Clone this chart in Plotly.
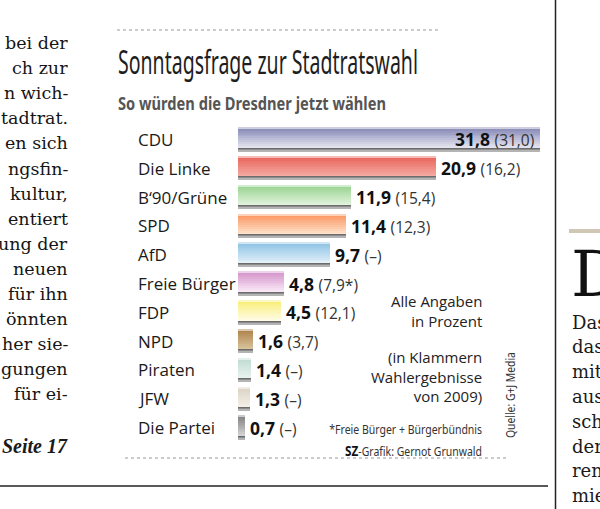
import json
import plotly.graph_objects as go

# ---------------- data ----------------
parties = ["CDU", "Die Linke", "B‘90/Grüne", "SPD", "AfD", "Freie Bürger",
           "FDP", "NPD", "Piraten", "JFW", "Die Partei"]
values = [31.8, 20.9, 11.9, 11.4, 9.7, 4.8, 4.5, 1.6, 1.4, 1.3, 0.7]
prev_2009 = [31.0, 16.2, 15.4, 12.3, None, 7.9, 12.1, 3.7, None, None, None]
footnote_mark = ["", "", "", "", "", "*", "", "", "", "", ""]

title = "Sonntagsfrage zur Stadtratswahl"
subtitle = "So würden die Dresdner jetzt wählen"
footnote = "*Freie Bürger + Bürgerbündnis"
credit_bold, credit_rest = "SZ", "-Grafik: Gernot Grunwald"
source = "Quelle: G+J Media"

left_article = ["bei der", "ch zur", "n wich-", "tadtrat.", "en sich", "ngsfin-",
                "kultur,", "entiert", "ung der", "neuen", "für ihn", "önnten",
                "her sie-", "gungen", "für ei-"]
right_article = ["Das", "das", "mit", "aus", "sch", "der", "ren", "mie"]

# ---------------- styles ----------------
top_colors = ["#8f91bb", "#e9685f", "#9cd594", "#fb9a66", "#95c6e6", "#d79ccf",
              "#f9ef7e", "#b08550", "#c2ddd3", "#ddd4c6", "#8a8a8a"]
bot_colors = ["#e2e2ee", "#f5aaa2", "#e2f4de", "#fee2cc", "#e2f0fa", "#f9e6f6",
              "#fffbe4", "#d9c49c", "#e9f3ef", "#f3efe8", "#d2d2d2"]

W, H = 600, 509
ML, MR, MT, MB = 238, 60, 125, 67
PW, PH = W - ML - MR, H - MT - MB


def px2x(px):
    return (px - ML) / PW


def py2y(py):
    return (H - MB - py) / PH


def hex2rgb(h):
    h = h.lstrip("#")
    return tuple(int(h[i:i + 2], 16) for i in (0, 2, 4))


def mix(a, b, t):
    ra, rb = hex2rgb(a), hex2rgb(b)
    return "rgb(%d,%d,%d)" % tuple(round(ra[i] + (rb[i] - ra[i]) * t) for i in range(3))


fig = go.Figure()

pitch = 28.8            # px per category row
u = 1.0 / pitch         # one pixel in category units
bar_top = -0.408
grad_h = 19.5 * u
N = 10
band = grad_h / N
for k in range(N):
    t = k / (N - 1)
    fig.add_trace(go.Bar(
        y=parties, x=values, orientation="h",
        offset=bar_top + u + k * band, width=band * 1.6,
        marker=dict(color=[mix(a, b, t) for a, b in zip(top_colors, bot_colors)],
                    line=dict(width=0)),
        hoverinfo="skip", showlegend=False))
# top highlight
fig.add_trace(go.Bar(
    y=parties, x=values, orientation="h", offset=bar_top, width=1.2 * u,
    marker=dict(color=[mix(a, "#ffffff", 0.55) for a in top_colors], line=dict(width=0)),
    hoverinfo="skip", showlegend=False))
# shadow
shadow_start = bar_top + u + grad_h
for j, c in enumerate(["#6c6c6c", "#8c8c8c", "#b4b4b4"]):
    fig.add_trace(go.Bar(
        y=parties, x=values, orientation="h", offset=shadow_start + j * u, width=u * 1.05,
        marker=dict(color=c, line=dict(width=0)),
        hoverinfo="skip", showlegend=False))

LABEL_FONT = "Open Sans, Noto Sans, sans-serif"
NARROW = "Noto Sans, DejaVu Sans, sans-serif"
SERIF = "DejaVu Serif, Liberation Serif, serif"

ann = []


def fmt(v):
    return ("%.1f" % v).replace(".", ",")


for i, (p, v, pv, fm) in enumerate(zip(parties, values, prev_2009, footnote_mark)):
    ann.append(dict(x=px2x(136), xref="paper", y=p, yref="y", text=p, showarrow=False,
                    xanchor="left", yanchor="middle",
                    font=dict(family=LABEL_FONT, size=17, color="#1a1a1a")))
    pv_txt = "(%s%s)" % (fmt(pv), fm) if pv is not None else "(–)"
    txt = "<b>%s</b> <span style='font-size:15.5px;color:#333'>%s</span>" % (fmt(v), pv_txt)
    inside = v > 25
    ann.append(dict(x=v, xref="x", y=p, yref="y", text=txt, showarrow=False,
                    xanchor="right" if inside else "left", yanchor="middle",
                    xshift=-4 if inside else 3,
                    font=dict(family=LABEL_FONT, size=17.5, color="#111")))

# title & subtitle (condensed afterwards, see post_script)
ann.append(dict(x=px2x(116), y=py2y(62), xref="paper", yref="paper", text=title,
                showarrow=False, xanchor="left", yanchor="middle",
                font=dict(family=NARROW, size=32, weight=400, color="#1e1e1e")))
ann.append(dict(x=px2x(116), y=py2y(103), xref="paper", yref="paper",
                text="<b>%s</b>" % subtitle,
                showarrow=False, xanchor="left", yanchor="middle",
                font=dict(family=NARROW, size=17.5, color="#555")))

# notes
ann.append(dict(x=px2x(484), y=py2y(311), xref="paper", yref="paper",
                text="Alle Angaben<br>in Prozent", align="right",
                showarrow=False, xanchor="right", yanchor="middle",
                font=dict(family=LABEL_FONT, size=15, color="#222")))
ann.append(dict(x=px2x(484), y=py2y(376), xref="paper", yref="paper",
                text="(in Klammern<br>Wahlergebnisse<br>von 2009)", align="right",
                showarrow=False, xanchor="right", yanchor="middle",
                font=dict(family=LABEL_FONT, size=15, color="#222")))
ann.append(dict(x=px2x(484), y=py2y(429), xref="paper", yref="paper",
                text=footnote, align="right",
                showarrow=False, xanchor="right", yanchor="middle",
                font=dict(family=NARROW, size=13, color="#333")))
ann.append(dict(x=px2x(484), y=py2y(450), xref="paper", yref="paper",
                text="<b><span style='font-size:14.5px;color:#111'>%s</span></b>%s" % (credit_bold, credit_rest),
                align="right", showarrow=False, xanchor="right", yanchor="middle",
                font=dict(family=NARROW, size=13, color="#333")))
ann.append(dict(x=px2x(510), y=py2y(395), xref="paper", yref="paper",
                text=source, textangle=-90,
                showarrow=False, xanchor="center", yanchor="middle",
                font=dict(family=NARROW, size=12.5, color="#333")))

# surrounding newspaper text
for i, line in enumerate(left_article):
    ann.append(dict(x=px2x(70), y=py2y(43 + i * 25.1), xref="paper", yref="paper",
                    text=line, showarrow=False, xanchor="right", yanchor="middle",
                    font=dict(family=SERIF, size=17.5, color="#151515")))
ann.append(dict(x=px2x(70), y=py2y(446), xref="paper", yref="paper",
                text="<b><i>Seite 17</i></b>", showarrow=False, xanchor="right",
                yanchor="middle", font=dict(family="Liberation Serif, serif", size=20, color="#1a1a1a")))
ann.append(dict(x=px2x(569), y=py2y(274), xref="paper", yref="paper",
                text="D", showarrow=False, xanchor="left", yanchor="middle",
                font=dict(family=SERIF, size=64, color="#111")))
for i, line in enumerate(right_article):
    ann.append(dict(x=px2x(570), y=py2y(322 + i * 24.8), xref="paper", yref="paper",
                    text=line, showarrow=False, xanchor="left", yanchor="middle",
                    font=dict(family=SERIF, size=18, color="#1a1a1a")))

shapes = [
    dict(type="line", xref="paper", yref="paper", x0=px2x(117), x1=px2x(441),
         y0=py2y(30), y1=py2y(30), line=dict(color="#999", width=1, dash="dot")),
    dict(type="line", xref="paper", yref="paper", x0=px2x(125), x1=px2x(508),
         y0=py2y(458), y1=py2y(458), line=dict(color="#999", width=1, dash="dot")),
    dict(type="line", xref="paper", yref="paper", x0=px2x(0), x1=px2x(548),
         y0=py2y(486), y1=py2y(486), line=dict(color="#222", width=1.5)),
    dict(type="line", xref="paper", yref="paper", x0=px2x(555.5), x1=px2x(555.5),
         y0=py2y(0), y1=py2y(509), line=dict(color="#222", width=1.5)),
    dict(type="line", xref="paper", yref="paper", x0=px2x(569), x1=px2x(600),
         y0=py2y(231), y1=py2y(231), line=dict(color="#cfc6b4", width=4)),
]

fig.update_layout(
    width=W, height=H,
    margin=dict(l=ML, r=MR, t=MT, b=MB, pad=0),
    paper_bgcolor="white", plot_bgcolor="white",
    barmode="overlay", bargap=0,
    xaxis=dict(range=[0, 31.8], visible=False, fixedrange=True),
    yaxis=dict(type="category", categoryarray=parties, range=[10.5, -0.5],
               visible=False, fixedrange=True),
    annotations=ann, shapes=shapes, showlegend=False,
)

# condensed typefaces are not installed: squeeze these texts horizontally
# to the widths of the condensed originals (prefix, target width px, origin)
condense = [[title[:12], 300, "l"], [subtitle[:9], 268, "l"],
            [footnote[:8], 153, "r"], [credit_bold + credit_rest[:4], 137, "r"],
            [source[:7], 86, "c"]]
post = """
document.body.style.margin='0';document.body.style.overflow='hidden';
var gd=document.getElementById('{plot_id}');
var spec=%s;
gd.querySelectorAll('text.annotation-text').forEach(function(t){
  var c=t.textContent;
  spec.forEach(function(s){
    if(c.indexOf(s[0])===0){
      var b=t.getBBox(); var k=s[1]/b.width;
      var ox = s[2]==='l' ? b.x : (s[2]==='r' ? b.x+b.width : b.x+b.width/2);
      t.setAttribute('transform','translate('+ox+',0) scale('+k+',1) translate('+(-ox)+',0)');
    }
  });
});
""" % json.dumps(condense)

fig.write_html("out.html", config={"displayModeBar": False}, post_script=post)
